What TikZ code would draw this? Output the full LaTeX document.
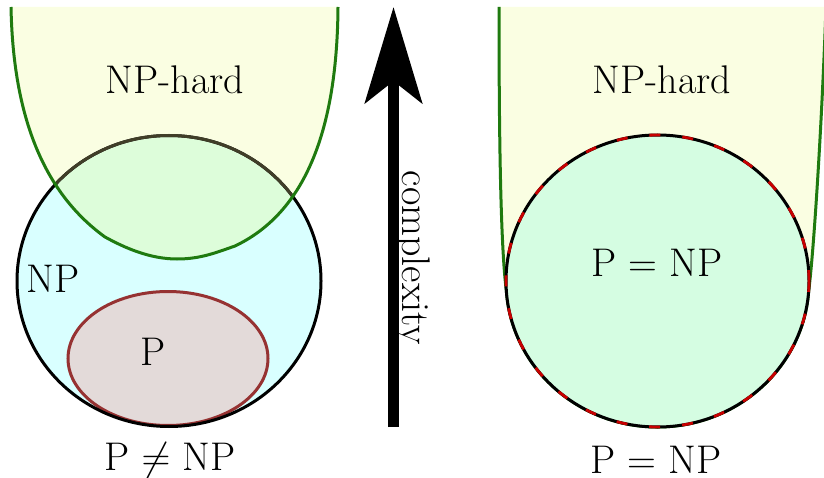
\RequirePackage{fix-cm}
\documentclass[tikz,border=0pt]{standalone}
\usepackage{fontspec}
\usetikzlibrary{arrows.meta}
\definecolor{hardfill}{RGB}{250,254,226}
\definecolor{npfill}{RGB}{217,255,255}
\definecolor{overlapfill}{RGB}{221,253,218}
\definecolor{pfill}{RGB}{227,218,217}
\definecolor{pline}{RGB}{150,50,50}
\definecolor{hardline}{RGB}{31,122,15}
\definecolor{olive}{RGB}{64,62,40}
\definecolor{eqfill}{RGB}{213,253,226}
\definecolor{dashred}{RGB}{200,0,0}
\begin{document}
\begin{tikzpicture}[x=1pt,y=-1pt,
  lbl/.style={font=\fontsize{40}{46}\selectfont, inner sep=0pt, anchor=center},
  setline/.style={line width=3pt}]
\useasboundingbox (0,0) rectangle (824,478);
% ---------- left diagram ----------
\def\nphardL{(11,7) .. controls (13,110) and (40,190) .. (105,237)
   .. controls (125,248) and (150,259) .. (177,259)
   .. controls (200,259) and (215,253) .. (235,246)
   .. controls (300,215) and (337,140) .. (338,7)}
\def\npcircle{(169,281) ellipse [x radius=152, y radius=145.5]}
\fill[npfill] \npcircle;
\fill[hardfill] \nphardL -- cycle;
\begin{scope}
  \clip \nphardL -- cycle;
  \fill[overlapfill] \npcircle;
\end{scope}
\draw[setline, pline, fill=pfill] (168,358.5) ellipse [x radius=100, y radius=67];
\draw[setline, black] \npcircle;
\begin{scope}
  \clip \nphardL -- cycle;
  \draw[setline, olive] \npcircle;
\end{scope}
\draw[setline, hardline] \nphardL;
\node[lbl] (hardL) at (175,80) {NP-hard};
\node[lbl] (np) at (53,279) {NP};
\node[lbl] (p) at (153,352) {P};
\node[lbl] (neq) at (170,460) {P $\neq$ NP};
% ---------- arrow ----------
\coordinate (abot) at (393.5,427);
\coordinate (atop) at (393.5,7);
\draw[line width=11pt, -{Stealth[length=96pt,width=57pt,inset=22pt]}] (abot) -- (atop);
\node[lbl, rotate=-90] (cx) at (412,258) {complexity};
% ---------- right diagram ----------
\def\eqcircle{(657.5,281) ellipse [x radius=151.5, y radius=146]}
\def\nphardR{(499,7) .. controls (499,150) and (501,250) .. (506.4,291.2)
   arc[start angle=176, end angle=4, x radius=151.5, y radius=146]
   .. controls (814,250) and (822,120) .. (826,7)}
\fill[hardfill] \nphardR -- cycle;
\draw[setline, hardline] \nphardR;
\fill[eqfill] \eqcircle;
\draw[setline, black] \eqcircle;
\draw[line width=2.8pt, dashred, dash pattern=on 11pt off 22pt] \eqcircle;
\node[lbl] (hardR) at (662,80) {NP-hard};
\node[lbl] (pnp) at (657,263) {P = NP};
\node[lbl] (eq) at (656,460) {P = NP};
\end{tikzpicture}
\end{document}
